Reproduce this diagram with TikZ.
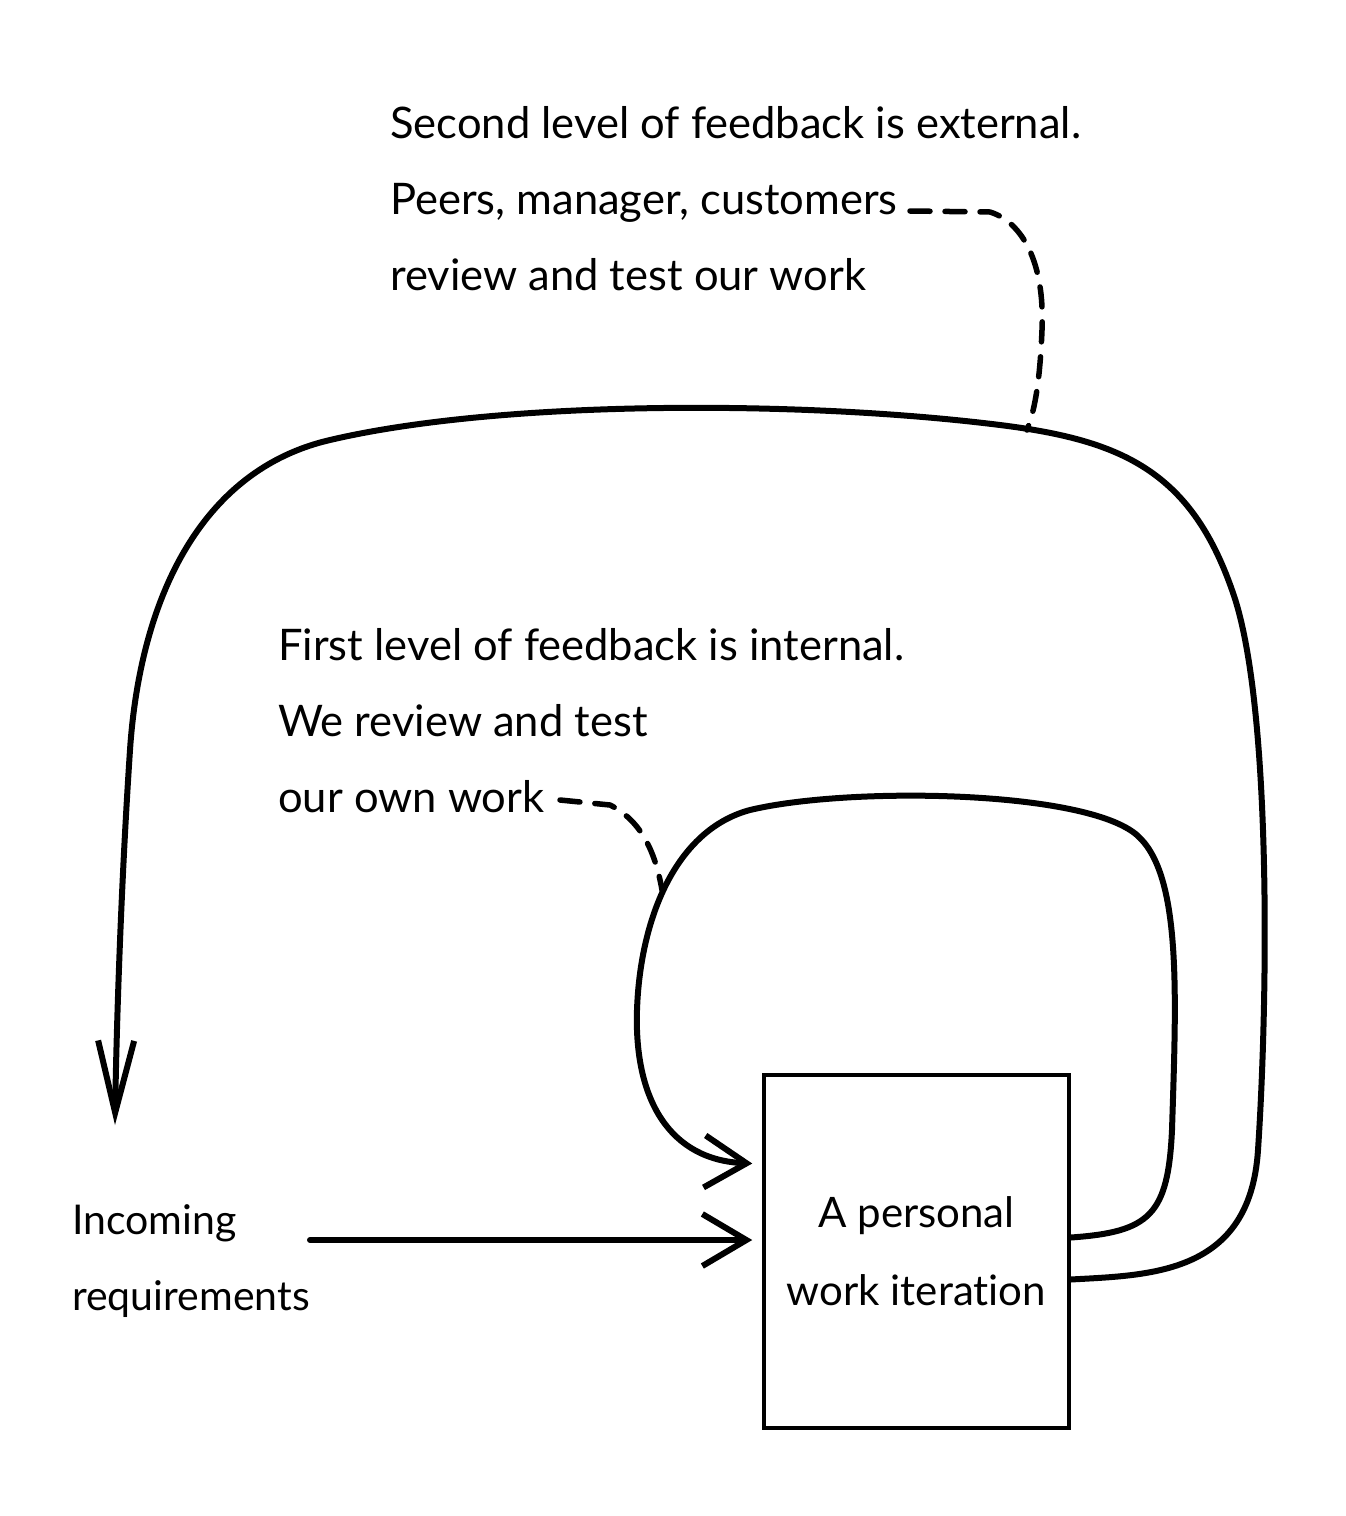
\documentclass[tikz,border=0pt]{standalone}
\usepackage{fontspec}
\setmainfont{Lato}[Ligatures=NoCommon]
\usetikzlibrary{arrows.meta}
\begin{document}
\begin{tikzpicture}[x=1pt,y=-1pt,
  note/.style={align=left, anchor=north west, inner sep=0pt,
    font=\fontsize{43.5}{76}\selectfont},
  flow/.style={line width=6pt, line cap=round, line join=round},
  hint/.style={line width=5.5pt, line cap=round, dash pattern=on 20pt off 15pt},
  frame/.style={draw, line width=3.5pt, minimum width=305pt, minimum height=353pt,
    align=center, font=\fontsize{42}{78}\selectfont}
]
\useasboundingbox (0,0) rectangle (1346,1516);

% texts
\node[note] (ext) at (390,106) {Second level of feedback is external.\\
  Peers, manager, customers\\ review and test our work};
\node[note] (int) at (278,628) {First level of feedback is internal.\\
  We review and test\\ our own work};
\node[note, font=\fontsize{41}{76}\selectfont] (req) at (72,1204) {Incoming\\ requirements};

% the work box
\node[frame] (box) at (916.5,1251.5) {A personal\\ work iteration};

% anchors on the box and ends of the loops
\coordinate (inA) at ([yshift=14pt]box.east);
\coordinate (outA) at ([yshift=-28pt]box.east);
\coordinate (inB) at ([xshift=-10pt, yshift=88pt]box.west);
\coordinate (reqEnd) at (115,1125);
\coordinate (reqStart) at (310,1240);
\coordinate (extA) at (910,211);
\coordinate (intA) at (560,800);

% incoming requirements into the box
\draw[flow, -{Straight Barb[length=44pt, width=52pt]}] (reqStart) -- ([xshift=-10pt]box.west |- reqStart);

% inner loop: back into the box
\draw[flow, -{Straight Barb[length=42pt, width=52pt]}]
  (inA) .. controls (1150,1232) and (1168,1215) .. (1172,1130)
  .. controls (1176,1000) and (1182,880) .. (1140,838)
  .. controls (1095,790) and (850,786) .. (750,810)
  .. controls (675,830) and (640,920) .. (637,1010)
  .. controls (634,1100) and (670,1160) .. (inB);

% outer loop: back to the incoming requirements
\draw[flow, -{Straight Barb[length=72pt, width=36pt]}]
  (outA) .. controls (1150,1275) and (1250,1275) .. (1258,1150)
  .. controls (1268,1000) and (1272,700) .. (1232,590)
  .. controls (1190,470) and (1120,440) .. (1000,425)
  .. controls (800,400) and (500,400) .. (330,440)
  .. controls (200,470) and (140,600) .. (130,750)
  .. controls (120,900) and (116,1050) .. (reqEnd);

% dashed hints
\draw[hint] (extA) -- (990,212)
  .. controls (1022,222) and (1045,262) .. (1042,330)
  .. controls (1040,380) and (1035,410) .. (1027,430);
\draw[hint] (intA) -- (610,805)
  .. controls (640,820) and (655,850) .. (662,890);
\end{tikzpicture}
\end{document}
